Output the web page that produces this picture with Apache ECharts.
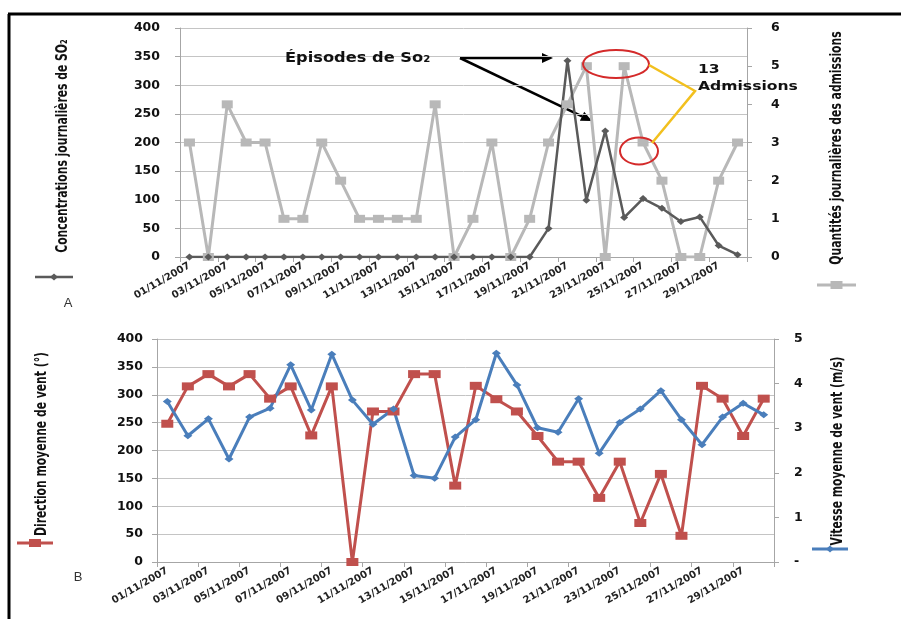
<!DOCTYPE html>
<html>
<head>
<meta charset="utf-8">
<script src="https://cdn.jsdelivr.net/npm/echarts@6/dist/echarts.min.js"></script>
<style>
  html, body { margin: 0; padding: 0; background: #fff; }
  #chart { width: 901px; height: 619px; }
</style>
</head>
<body>
<div id="chart"></div>
<script>
// dates du mois de novembre 2007
const days = [
  '01/11/2007','02/11/2007','03/11/2007','04/11/2007','05/11/2007','06/11/2007',
  '07/11/2007','08/11/2007','09/11/2007','10/11/2007','11/11/2007','12/11/2007',
  '13/11/2007','14/11/2007','15/11/2007','16/11/2007','17/11/2007','18/11/2007',
  '19/11/2007','20/11/2007','21/11/2007','22/11/2007','23/11/2007','24/11/2007',
  '25/11/2007','26/11/2007','27/11/2007','28/11/2007','29/11/2007','30/11/2007'
];

// A : SO2 (axe gauche) et admissions (axe droit)
const so2 = [0,0,0,0,0,0,0,0,0,0,0,0,0,0,0,0,0,0,0,50,343,99,220,69,102,85,62,70,20,4];
const admissions = [3,0,4,3,3,1,1,3,2,1,1,1,1,4,0,1,3,0,1,3,4,5,0,5,3,2,0,0,2,3];

// B : direction (axe gauche) et vitesse du vent (axe droit)
const direction = [248,315,337,315,337,293,315,227,315,0,270,270,337,337,137,316,292,270,226,180,180,115,180,70,158,47,316,293,226,293];
const vitesse = [3.6,2.83,3.21,2.31,3.25,3.45,4.42,3.41,4.66,3.63,3.09,3.43,1.94,1.88,2.8,3.19,4.68,3.97,3.01,2.91,3.66,2.44,3.13,3.43,3.84,3.19,2.63,3.25,3.56,3.3];

const C_SO2 = '#5a5a5a';
const C_ADM = '#b8b8b8';
const C_DIR = '#c0504d';
const C_VIT = '#4a7ebb';
const GRID = '#c4c4c4';
const AXIS = '#a6a6a6';
const NARROW = "'DejaVu Sans Condensed', 'Liberation Sans Narrow', sans-serif";

let chart = echarts.init(document.getElementById('chart'), null, { renderer: 'canvas' });

function xAxisFor(gridIndex) {
  return {
    type: 'category',
    gridIndex: gridIndex,
    data: days,
    boundaryGap: true,
    axisLine: { lineStyle: { color: AXIS, width: 1 } },
    axisTick: { show: true, interval: 1, length: 5, lineStyle: { color: AXIS } },
    axisLabel: {
      interval: 1, rotate: 30, margin: 8,
      color: '#222', fontSize: 10, fontWeight: 'bold', fontFamily: 'DejaVu Sans'
    },
    splitLine: { show: false }
  };
}

function yAxisFor(gridIndex, pos, max, interval, margin, grid, fmt) {
  return {
    type: 'value',
    gridIndex: gridIndex,
    position: pos,
    min: 0, max: max, interval: interval,
    axisLine: { show: true, lineStyle: { color: AXIS, width: 1 } },
    axisTick: { show: true, length: 5, lineStyle: { color: AXIS } },
    axisLabel: {
      margin: margin, color: '#111', fontSize: 12.5, fontWeight: 'bold',
      fontFamily: 'DejaVu Sans', formatter: fmt
    },
    splitLine: { show: grid, lineStyle: { color: GRID, width: 1 } }
  };
}

function arrow(x1, y1, x2, y2) {
  let a = Math.atan2(y2 - y1, x2 - x1);
  let L = 11, W = 5;
  let bx = x2 - L * Math.cos(a), by = y2 - L * Math.sin(a);
  return [
    { type: 'line', shape: { x1: x1, y1: y1, x2: bx, y2: by }, style: { stroke: '#000', lineWidth: 2.5 } },
    { type: 'polygon', shape: { points: [
      [x2, y2],
      [bx + W * Math.sin(a), by - W * Math.cos(a)],
      [bx - W * Math.sin(a), by + W * Math.cos(a)]
    ] }, style: { fill: '#000' } }
  ];
}

// titre vertical, compressé pour imiter la police étroite de l'original
function vtitle(x, y, text) {
  return {
    type: 'text', x: x, y: y, rotation: Math.PI / 2, scaleX: 0.75,
    style: { text: text, align: 'center', verticalAlign: 'middle', fill: '#111',
      font: 'bold 16px ' + NARROW }
  };
}

function legendMark(x1, x2, y, color, width, sym) {
  let cx = (x1 + x2) / 2;
  let out = [{ type: 'line', shape: { x1: x1, y1: y, x2: x2, y2: y }, style: { stroke: color, lineWidth: width } }];
  if (sym == 'rect') {
    out.push({ type: 'rect', shape: { x: cx - 6, y: y - 4, width: 12, height: 8 }, style: { fill: color } });
  } else {
    out.push({ type: 'polygon', shape: { points: [[cx - 4, y], [cx, y - 3.5], [cx + 4, y], [cx, y + 3.5]] }, style: { fill: color } });
  }
  return out;
}

let graphics = [];
// cadre
graphics.push({ type: 'line', shape: { x1: 9, y1: 619, x2: 9, y2: 14 }, style: { stroke: '#000', lineWidth: 3 } });
graphics.push({ type: 'line', shape: { x1: 8, y1: 14, x2: 901, y2: 14 }, style: { stroke: '#000', lineWidth: 3 } });
// titres des axes
graphics.push(vtitle(63, 146, 'Concentrations journalières de SO₂'));
graphics.push(vtitle(837, 148, 'Quantités journalières des admissions'));
graphics.push(vtitle(42, 444, 'Direction moyenne de vent (°)'));
graphics.push(vtitle(838, 451, 'Vitesse moyenne de vent (m/s)'));
graphics = graphics.concat(legendMark(35, 73, 277, C_SO2, 2.5, 'diamond'));
graphics = graphics.concat(legendMark(817, 856, 285, C_ADM, 3, 'rect'));
graphics = graphics.concat(legendMark(17, 53, 543, C_DIR, 3, 'rect'));
graphics = graphics.concat(legendMark(812, 848, 549, C_VIT, 3, 'diamond'));
graphics.push({ type: 'text', x: 68, y: 303, style: { text: 'A', align: 'center', verticalAlign: 'middle', fill: '#333', font: '13px Liberation Sans' } });
graphics.push({ type: 'text', x: 78, y: 577, style: { text: 'B', align: 'center', verticalAlign: 'middle', fill: '#333', font: '13px Liberation Sans' } });
// annotations
graphics.push({ type: 'text', x: 285, y: 58, z: 20, scaleX: 1.16, style: { text: 'Épisodes de So₂', align: 'left', verticalAlign: 'middle', fill: '#111', font: 'bold 14px DejaVu Sans' } });
graphics = graphics.concat(arrow(460, 58, 553, 58));
graphics = graphics.concat(arrow(460, 58, 592, 121));
graphics.push({ type: 'ellipse', z: 20, shape: { cx: 616, cy: 64, rx: 33, ry: 14 }, style: { fill: 'none', stroke: '#d42a2a', lineWidth: 2 } });
graphics.push({ type: 'ellipse', z: 20, shape: { cx: 639, cy: 151, rx: 19, ry: 13.5 }, style: { fill: 'none', stroke: '#d42a2a', lineWidth: 2 } });
graphics.push({ type: 'polyline', z: 20, shape: { points: [[649, 65], [695, 91], [652, 143]] }, style: { stroke: '#f2c01e', lineWidth: 2.5, fill: 'none' } });
graphics.push({ type: 'text', x: 698, y: 70, z: 20, scaleX: 1.2, style: { text: '13', align: 'left', verticalAlign: 'middle', fill: '#111', font: 'bold 13px DejaVu Sans' } });
graphics.push({ type: 'text', x: 698, y: 87, z: 20, scaleX: 1.2, style: { text: 'Admissions', align: 'left', verticalAlign: 'middle', fill: '#111', font: 'bold 13px DejaVu Sans' } });

let option = {
  animation: false,
  backgroundColor: '#fff',
  grid: [
    { left: 180, top: 28, width: 567, height: 229 },
    { left: 157, top: 339, width: 617, height: 223 }
  ],
  xAxis: [xAxisFor(0), xAxisFor(1)],
  yAxis: [
    yAxisFor(0, 'left', 400, 50, 20, true),
    yAxisFor(0, 'right', 6, 1, 24, false),
    yAxisFor(1, 'left', 400, 50, 14, true),
    yAxisFor(1, 'right', 5, 1, 20, false, v => v === 0 ? '-' : v)
  ],
  series: [
    {
      name: 'Admissions', type: 'line', xAxisIndex: 0, yAxisIndex: 1,
      data: admissions, symbol: 'rect', symbolSize: [11, 8],
      lineStyle: { color: C_ADM, width: 3 }, itemStyle: { color: C_ADM }
    },
    {
      name: 'SO2', type: 'line', xAxisIndex: 0, yAxisIndex: 0,
      data: so2, symbol: 'diamond', symbolSize: [8, 7],
      lineStyle: { color: C_SO2, width: 2.5 }, itemStyle: { color: C_SO2 }
    },
    {
      name: 'Direction', type: 'line', xAxisIndex: 1, yAxisIndex: 2,
      data: direction, symbol: 'rect', symbolSize: [12, 8],
      lineStyle: { color: C_DIR, width: 3 }, itemStyle: { color: C_DIR }
    },
    {
      name: 'Vitesse', type: 'line', xAxisIndex: 1, yAxisIndex: 3,
      data: vitesse, symbol: 'diamond', symbolSize: [9, 7],
      lineStyle: { color: C_VIT, width: 3 }, itemStyle: { color: C_VIT }
    }
  ],
  graphic: graphics
};

chart.setOption(option);
</script>
</body>
</html>
